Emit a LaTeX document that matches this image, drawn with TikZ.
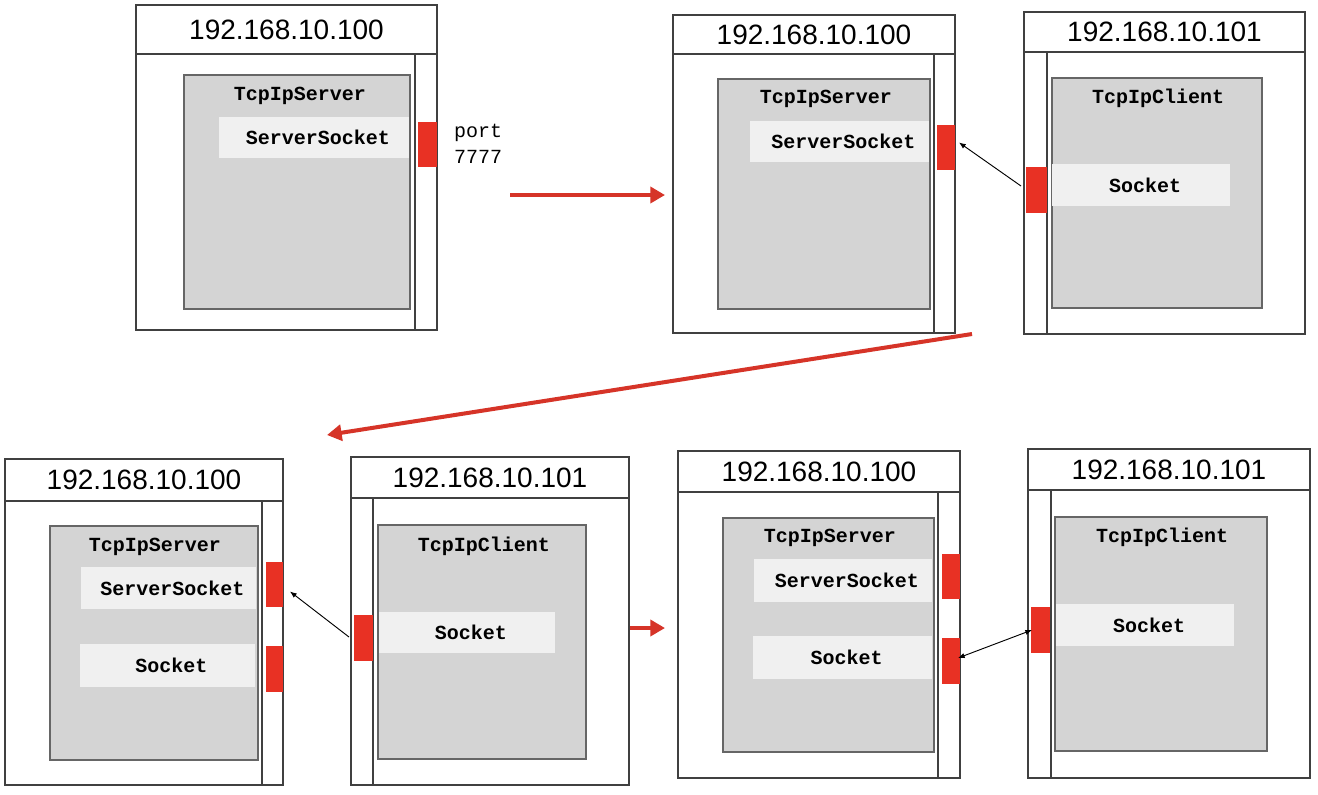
\documentclass[tikz,border=0pt]{standalone}
\usepackage{fontspec}
\setmainfont{Liberation Sans}
\setmonofont{Liberation Mono}
\usetikzlibrary{positioning}
\usetikzlibrary{calc}
\usetikzlibrary{arrows.meta}
\definecolor{portred}{RGB}{232,49,36}
\definecolor{flowred}{RGB}{214,52,40}
\definecolor{appgray}{RGB}{212,212,212}
\definecolor{sockfill}{RGB}{240,240,240}

\begin{document}
\begin{tikzpicture}[x=0.75pt, y=-0.75pt,
        sz/.style 2 args={minimum width=#1*0.75pt, minimum height=#2*0.75pt},
        every node/.style={inner sep=0pt, outer sep=0pt, anchor=north west},
        header/.style={draw=black!75, line width=1.1pt, font=\fontsize{21}{25}\selectfont},
        hostbody/.style={draw=black!75, line width=1.1pt},
        wall/.style={draw=black!75, line width=0.9pt},
        app/.style={draw=black!60, line width=1.1pt, fill=appgray},
        title/.style={anchor=center, font=\ttfamily\bfseries\fontsize{15}{18}\selectfont},
        sock/.style={fill=sockfill, font=\ttfamily\bfseries\fontsize{15}{18}\selectfont},
        port/.style={fill=portred},
        flow/.style={draw=flowred, line width=3pt, -{Triangle[length=11pt,width=12pt]}},
        link/.style={draw=black, line width=0.7pt, -{Latex[length=5pt,width=4pt]}}]

    \fill[white] (0,0) rectangle (1318,794);
    \useasboundingbox (0,0) rectangle (1318,794);

    % step 1: server listens
    \node[header, sz={301}{49}] (ipA) at (136,5) {192.168.10.100};
    \node[hostbody, sz={301}{276}] (hA) at (136,54) {};
    \draw[wall] (415,54) -- (415,330);
    \node[app, sz={226}{234}] (gA) at (184,75) {};
    \node[title] at (300,96) {TcpIpServer};
    \node[sock, sz={190}{41}] (ssA) at (219,117) {\hspace{6pt}ServerSocket};
    \node[port, sz={19}{45}] (pA) at (418,122) {};
    \node[anchor=west, align=left, font=\ttfamily\fontsize{15}{19.5}\selectfont] (lblA) at (454,144) {port\\7777};

    \coordinate (f1s) at (510,195);
    \coordinate (f1e) at (665,195);
    \draw[flow] (f1s) -- (f1e);

    % step 2: client connects
    \node[header, sz={282}{39}] (ipBs) at (673,15) {192.168.10.100};
    \node[hostbody, sz={282}{279}] (hBs) at (673,54) {};
    \draw[wall] (934,54) -- (934,333);
    \node[app, sz={212}{230}] (gBs) at (718,79) {};
    \node[title] at (826,99) {TcpIpServer};
    \node[sock, sz={179}{41}] (ssB) at (750,121) {\hspace{6pt}ServerSocket};
    \node[port, sz={18}{45}] (spB) at (937,125) {};

    \node[header, sz={281}{40}] (ipBc) at (1024,12) {192.168.10.101};
    \node[hostbody, sz={281}{282}] (hBc) at (1024,52) {};
    \draw[wall] (1047,52) -- (1047,334);
    \node[app, sz={210}{230}] (gBc) at (1052,78) {};
    \node[title] at (1158,98) {TcpIpClient};
    \node[sock, sz={178}{42}] (csB) at (1052,164) {\hspace{6pt}Socket};
    \node[port, sz={21}{46}] (cpB) at (1026,167) {};

    \draw[link] ($(cpB.west)+(-5,-4)$) -- ($(spB.east)+(4,-5)$);

    \coordinate (f2s) at (972,334);
    \coordinate (f2e) at (327,435);
    \draw[flow] (f2s) -- (f2e);

    % step 3: server accepts
    \node[header, sz={278}{42}] (ipCs) at (5,459) {192.168.10.100};
    \node[hostbody, sz={278}{284}] (hCs) at (5,501) {};
    \draw[wall] (262,501) -- (262,785);
    \node[app, sz={208}{234}] (gCs) at (50,526) {};
    \node[title] at (155,547) {TcpIpServer};
    \node[sock, sz={175}{42}] (ssC) at (81,567) {\hspace{6pt}ServerSocket};
    \node[sock, sz={175}{43}] (asC) at (80,644) {\hspace{6pt}Socket};
    \node[port, sz={17}{45}] (spC) at (266,562) {};
    \node[port, sz={17}{46}] (apC) at (266,646) {};

    \node[header, sz={278}{41}] (ipCc) at (351,457) {192.168.10.101};
    \node[hostbody, sz={278}{287}] (hCc) at (351,498) {};
    \draw[wall] (373,498) -- (373,785);
    \node[app, sz={208}{234}] (gCc) at (378,525) {};
    \node[title] at (484,546) {TcpIpClient};
    \node[sock, sz={176}{41}] (csC) at (379,612) {\hspace{6pt}Socket};
    \node[port, sz={19}{46}] (cpC) at (354,615) {};

    \draw[link] ($(cpC.west)+(-5,-1)$) -- ($(spC.east)+(7,7)$);

    \coordinate (f3s) at (630,628);
    \coordinate (f3e) at (665,628);
    \draw[flow] (f3s) -- (f3e);

    % step 4: sockets talk
    \node[header, sz={282}{41}] (ipDs) at (678,451) {192.168.10.100};
    \node[hostbody, sz={282}{286}] (hDs) at (678,492) {};
    \draw[wall] (938,492) -- (938,778);
    \node[app, sz={211}{234}] (gDs) at (723,518) {};
    \node[title] at (830,538) {TcpIpServer};
    \node[sock, sz={178}{43}] (ssD) at (754,559) {\hspace{6pt}ServerSocket};
    \node[sock, sz={179}{43}] (asD) at (753,636) {\hspace{6pt}Socket};
    \node[port, sz={18}{45}] (spD) at (942,554) {};
    \node[port, sz={18}{46}] (apD) at (942,638) {};

    \node[header, sz={282}{41}] (ipDc) at (1028,449) {192.168.10.101};
    \node[hostbody, sz={282}{288}] (hDc) at (1028,490) {};
    \draw[wall] (1051,490) -- (1051,778);
    \node[app, sz={212}{234}] (gDc) at (1055,517) {};
    \node[title] at (1162,537) {TcpIpClient};
    \node[sock, sz={178}{42}] (csD) at (1056,604) {\hspace{6pt}Socket};
    \node[port, sz={19}{46}] (cpD) at (1031,607) {};

    \draw[link, {Latex[length=5pt,width=4pt]}-{Latex[length=5pt,width=4pt]}] ($(apD.east)+(-2,-3)$) -- ($(cpD.west)+(1,0)$);

\end{tikzpicture}
\end{document}
